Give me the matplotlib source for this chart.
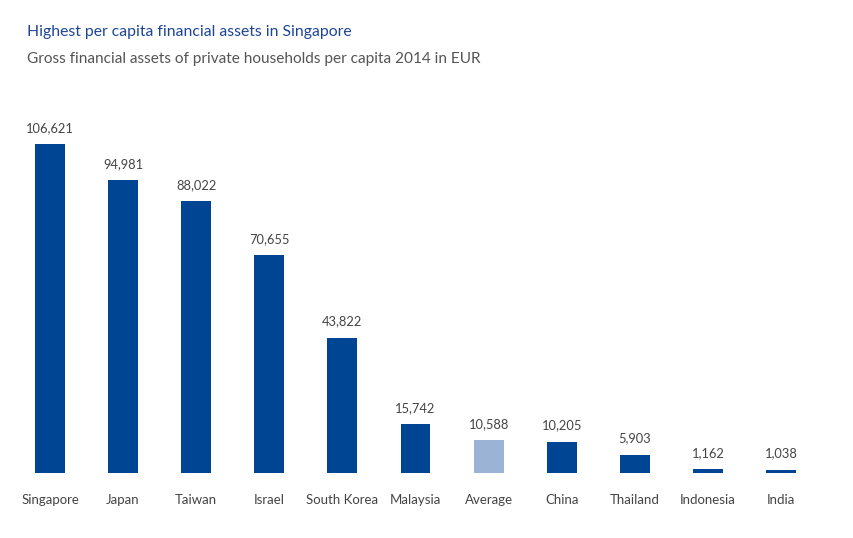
import matplotlib.pyplot as plt

plt.rcParams['font.family'] = ['Lato', 'DejaVu Sans']

countries = ['Singapore', 'Japan', 'Taiwan', 'Israel', 'South Korea', 'Malaysia',
             'Average', 'China', 'Thailand', 'Indonesia', 'India']
assets = [106621, 94981, 88022, 70655, 43822, 15742, 10588, 10205, 5903, 1162, 1038]

dark_blue = '#004494'
light_blue = '#9bb4d6'
colors = [light_blue if c == 'Average' else dark_blue for c in countries]

fig = plt.figure(figsize=(8.54, 5.38), dpi=100)
# axes placed in pixel terms: bottom at y=473, x-centres from 50 to 781
ax = fig.add_axes([13.45 / 854, 65 / 538, 804.1 / 854, 370.3 / 538])

x = range(len(countries))
ax.bar(x, assets, width=0.41, color=colors)
for i, v in zip(x, assets):
    ax.text(i, v + 3300, f'{v:,}', ha='center', va='bottom', fontsize=9.3, color='#444444')

ax.set_xlim(-0.5, len(countries) - 0.5)
ax.set_ylim(0, 120000)
ax.set_xticks(list(x))
ax.set_xticklabels(countries, fontsize=9.5, color='#444444')
ax.tick_params(axis='x', length=0, pad=15)
ax.set_yticks([])
for s in ax.spines.values():
    s.set_visible(False)

fig.text(27 / 854, 1 - 32 / 538, 'Highest per capita financial assets in Singapore',
         fontsize=11.3, color='#1d4597', va='center', ha='left')
fig.text(27 / 854, 1 - 59 / 538, 'Gross financial assets of private households per capita 2014 in EUR',
         fontsize=11.1, color='#555555', va='center', ha='left')

fig.savefig('out.png', dpi=100)
